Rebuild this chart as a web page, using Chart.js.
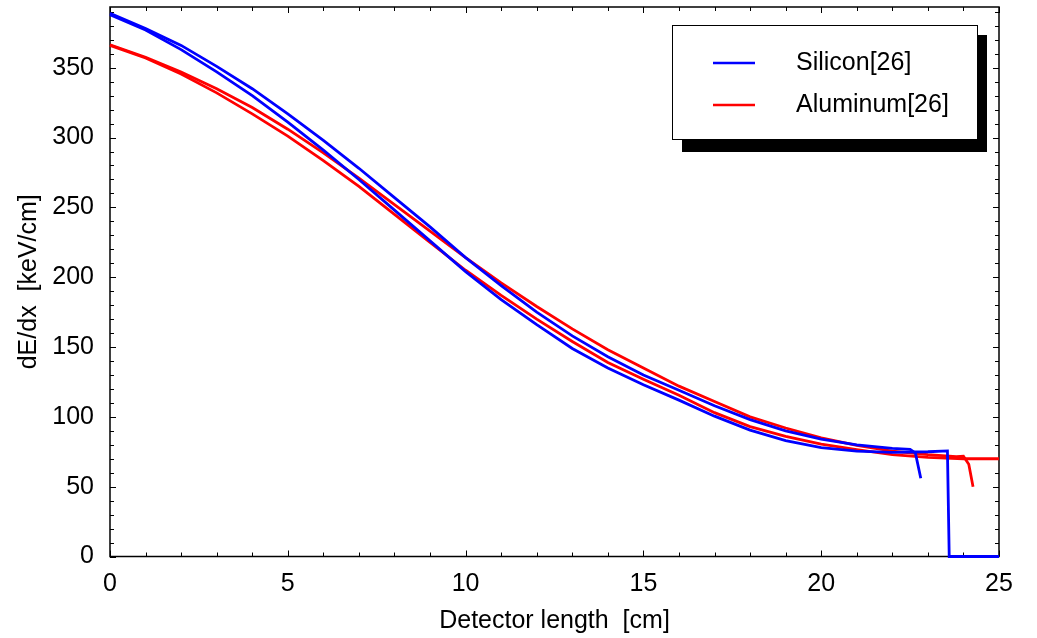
<!DOCTYPE html>
<html>
<head>
<meta charset="utf-8">
<script src="https://cdn.jsdelivr.net/npm/chart.js@4.4.1/dist/chart.umd.min.js"></script>
<style>
  html, body { margin: 0; padding: 0; background: #fff; }
  #wrap { width: 1037px; height: 638px; }
</style>
</head>
<body>
<div id="wrap"><canvas id="dedx"></canvas></div>
<script>
// dE/dx along the detector
const siliconAX = [0, 1, 2, 3, 4, 5, 6, 7, 8, 9, 10, 11, 12, 13, 14, 15, 16, 17, 18, 19, 20, 21, 22, 22.5, 22.65, 22.8];
const siliconAY = [389, 378, 366, 351, 335, 317, 298, 278, 257, 236, 214, 194, 175, 158, 143, 130, 119, 108, 98, 90, 84, 80, 77.5, 76.8, 74, 56];

const siliconBX = [0, 1, 2, 3, 4, 5, 6, 7, 8, 9, 10, 11, 12, 13, 14, 15, 16, 17, 18, 19, 20, 21, 22, 23, 23.55, 23.6, 25];
const siliconBY = [388, 377, 363, 347, 330, 311, 291, 270, 248, 226, 204, 184, 166, 149, 135, 123, 112, 100.5, 90.5, 83, 78, 75.5, 74.5, 75, 75.6, 0, 0];

const aluminumAX = [0, 1, 2, 3, 4, 5, 6, 7, 8, 9, 10, 11, 12, 13, 14, 15, 16, 17, 18, 19, 20, 21, 22, 23, 23.8, 24, 24.15, 24.27];
const aluminumAY = [366.5, 357.5, 347, 335, 321.5, 306, 289, 271, 252, 233, 214, 196, 179, 163, 148, 135, 122, 111, 100, 92, 85, 79.5, 75.5, 73, 71.5, 71.8, 66, 50];

const aluminumBX = [0, 1, 2, 3, 4, 5, 6, 7, 8, 9, 10, 11, 12, 13, 14, 15, 16, 17, 18, 19, 20, 21, 22, 23, 24, 25];
const aluminumBY = [366, 357, 345.5, 332, 317, 301, 283.5, 265, 245, 225, 205, 187, 170, 154, 139, 127, 115.5, 103, 93, 86, 80.5, 76.5, 73, 71, 70, 70];

const xTickLabels = [0, 5, 10, 15, 20, 25];
const yTickLabels = [0, 50, 100, 150, 200, 250, 300, 350];
const legendNames = ['Silicon[26]', 'Aluminum[26]'];

const FONT = 'Liberation Sans, Arial, Helvetica, sans-serif';
const BLUE = '#0000ff';
const RED = '#ff0000';

const pts = (xs, ys) => xs.map((x, i) => ({ x: x, y: ys[i] }));

const series = (label, xs, ys, color) => ({
  label: label,
  data: pts(xs, ys),
  borderColor: color,
  backgroundColor: color,
  borderWidth: 2.8,
  pointRadius: 0,
  tension: 0,
  fill: false,
  clip: 3
});

// frame with inward ticks on all four sides (under the curves)
const framePlugin = {
  id: 'frame',
  beforeDatasetsDraw(chart) {
    const { ctx, chartArea: a, scales } = chart;
    ctx.save();
    ctx.strokeStyle = '#000';
    ctx.lineWidth = 1;
    ctx.beginPath();
    for (let v = 0; v <= 25; v++) {
      const px = Math.round(scales.x.getPixelForValue(v)) + 0.5;
      const len = xTickLabels.includes(v) ? 6 : 4;
      ctx.moveTo(px, a.bottom); ctx.lineTo(px, a.bottom - len);
      ctx.moveTo(px, a.top); ctx.lineTo(px, a.top + len);
    }
    for (let v = 0; v <= 390; v += 10) {
      const py = Math.round(scales.y.getPixelForValue(v)) + 0.5;
      const len = yTickLabels.includes(v) ? 6 : 4;
      ctx.moveTo(a.left, py); ctx.lineTo(a.left + len, py);
      ctx.moveTo(a.right, py); ctx.lineTo(a.right - len, py);
    }
    ctx.stroke();
    ctx.lineWidth = 1.5;
    ctx.strokeRect(a.left, a.top, a.right - a.left, a.bottom - a.top);
    ctx.restore();
  }
};

// boxed legend with a drop shadow, top right
const legendPlugin = {
  id: 'boxLegend',
  afterDraw(chart) {
    const { ctx, chartArea: a } = chart;
    const w = 305, h = 114;
    const x = a.right - 22 - w, y = a.top + 18;
    ctx.save();
    ctx.fillStyle = '#000';
    ctx.fillRect(x + 10, y + 10, w, h + 3);
    ctx.fillStyle = '#fff';
    ctx.fillRect(x, y, w, h);
    ctx.strokeStyle = '#000';
    ctx.lineWidth = 1;
    ctx.strokeRect(x + 0.5, y + 0.5, w, h);
    const colors = [BLUE, RED];
    ctx.font = '25px ' + FONT;
    ctx.textBaseline = 'middle';
    ctx.textAlign = 'left';
    legendNames.forEach((name, i) => {
      const ly = y + 38 + i * 42;
      ctx.strokeStyle = colors[i];
      ctx.lineWidth = 2.5;
      ctx.beginPath();
      ctx.moveTo(x + 41, ly); ctx.lineTo(x + 83, ly);
      ctx.stroke();
      ctx.fillStyle = '#000';
      ctx.fillText(name, x + 124, ly);
    });
    ctx.restore();
  }
};

const ctx = document.getElementById('dedx').getContext('2d');
new Chart(ctx, {
  type: 'line',
  data: {
    datasets: [
      series(legendNames[0], siliconAX, siliconAY, BLUE),
      series(legendNames[0], siliconBX, siliconBY, BLUE),
      series(legendNames[1], aluminumAX, aluminumAY, RED),
      series(legendNames[1], aluminumBX, aluminumBY, RED)
    ]
  },
  options: {
    responsive: true,
    maintainAspectRatio: false,
    animation: false,
    layout: { padding: { top: 7, right: 38, left: 0, bottom: 0 } },
    plugins: { legend: { display: false }, tooltip: { enabled: false } },
    scales: {
      x: {
        type: 'linear',
        min: 0,
        max: 25,
        afterBuildTicks: s => { s.ticks = xTickLabels.map(v => ({ value: v })); },
        afterFit: s => { s.height = 81.5; s.paddingLeft = 0; s.paddingRight = 0; },
        grid: { display: false, drawTicks: false },
        border: { display: false },
        ticks: {
          autoSkip: false,
          maxRotation: 0,
          padding: 13,
          color: '#000',
          font: { family: FONT, size: 25 }
        },
        title: {
          display: true,
          text: 'Detector length  [cm]',
          color: '#000',
          font: { family: FONT, size: 25 },
          padding: { top: 0, bottom: 2 }
        }
      },
      y: {
        min: 0,
        max: 393.5,
        afterBuildTicks: s => { s.ticks = yTickLabels.map(v => ({ value: v })); },
        afterFit: s => { s.width = 110; s.paddingTop = 0; s.paddingBottom = 0; },
        grid: { display: false, drawTicks: false },
        border: { display: false },
        ticks: {
          autoSkip: false,
          padding: 16,
          color: '#000',
          font: { family: FONT, size: 25 }
        },
        title: {
          display: true,
          text: 'dE/dx  [keV/cm]',
          color: '#000',
          font: { family: FONT, size: 25 },
          padding: { top: 14, bottom: 0 }
        }
      }
    }
  },
  plugins: [framePlugin, legendPlugin]
});
</script>
</body>
</html>
